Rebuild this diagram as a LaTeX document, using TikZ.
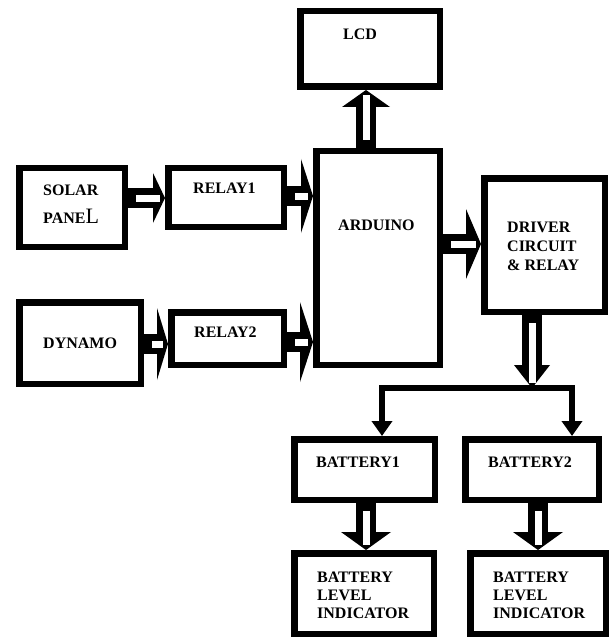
\documentclass[tikz,border=0pt]{standalone}
\usepackage{fontspec}
\setmainfont{Liberation Serif}
\usetikzlibrary{arrows.meta, positioning, calc}

% hollow block arrow: from, tip, half head width, head length
\newcommand{\hollowarrow}[4]{%
  \coordinate (hb) at ($(#2)!#4!(#1)$);
  \draw[line width=20pt] (#1) -- (hb);
  \fill (#2) -- ($(hb)!#3!90:(#2)$) -- ($(hb)!#3!-90:(#2)$) -- cycle;
  \draw[white, line width=7pt, shorten <=8pt, shorten >=5pt] (#1) -- (#2);
}

\begin{document}
\begin{tikzpicture}[x=1pt, y=-1pt,
    blk/.style={draw, line width=6.5pt, inner sep=0pt},
    lbl/.style={font=\fontsize{16}{19}\selectfont\bfseries, anchor=north west, align=left, inner sep=0pt}]
    \useasboundingbox (0,0) rectangle (611,639);

    % Blocks
    \node[blk, minimum width=105.5pt, minimum height=78.5pt] (solar) at (72,207.5) {};
    \node[blk, minimum width=115.5pt, minimum height=58.5pt] (relay1) at (226,197.5) {};
    \node[blk, minimum width=121.5pt, minimum height=81.5pt] (dynamo) at (80,343) {};
    \node[blk, minimum width=112.5pt, minimum height=52.5pt] (relay2) at (227.5,338.5) {};
    \node[blk, minimum width=123.5pt, minimum height=213.5pt] (arduino) at (378,258) {};
    \node[blk, minimum width=139.5pt, minimum height=75.5pt] (lcd) at (370,49) {};
    \node[blk, minimum width=120.5pt, minimum height=133.5pt] (driver) at (544.5,245) {};
    \node[blk, minimum width=140.5pt, minimum height=60.5pt] (bat1) at (364.5,469.5) {};
    \node[blk, minimum width=133.5pt, minimum height=60.5pt] (bat2) at (532,469.5) {};
    \node[blk, minimum width=139.5pt, minimum height=80.5pt] (bli1) at (364,593.5) {};
    \node[blk, minimum width=135.5pt, minimum height=80.5pt] (bli2) at (538,593.5) {};

    % Labels
    \node[lbl] (lcdtxt) at (343,29) {LCD};
    \node[lbl, font=\fontsize{16}{28}\selectfont\bfseries] (solartxt) at (43,185)
        {SOLAR\\PANE{\fontsize{22}{22}\selectfont\mdseries L}};
    \node[lbl] (relay1txt) at (193,183) {RELAY1};
    \node[lbl] (dynamotxt) at (43,338) {DYNAMO};
    \node[lbl] (relay2txt) at (194,327) {RELAY2};
    \node[lbl] (arduinotxt) at (338,220) {ARDUINO};
    \node[lbl] (drivertxt) at (507,222) {DRIVER\\CIRCUIT\\\& RELAY};
    \node[lbl] (bat1txt) at (316,457) {BATTERY1};
    \node[lbl] (bat2txt) at (488,457) {BATTERY2};
    \node[lbl, font=\fontsize{16}{18}\selectfont\bfseries] (bli1txt) at (317,572) {BATTERY\\LEVEL\\INDICATOR};
    \node[lbl, font=\fontsize{16}{18}\selectfont\bfseries] (bli2txt) at (493,572) {BATTERY\\LEVEL\\INDICATOR};

    % Hollow arrows
    \hollowarrow{solar.east |- 0,198}{relay1.west |- 0,198}{25pt}{12pt}
    \hollowarrow{relay1.east |- 0,196}{arduino.west |- 0,196}{37pt}{12pt}
    \hollowarrow{dynamo.east |- 0,344}{relay2.west |- 0,344}{36pt}{11pt}
    \hollowarrow{relay2.east |- 0,342}{arduino.west |- 0,342}{40pt}{13pt}
    \hollowarrow{arduino.east |- 0,244}{driver.west |- 0,244}{35pt}{15pt}
    \hollowarrow{arduino.north -| 366,0}{lcd.south -| 366,0}{24pt}{17pt}
    \coordinate (split) at (532,388);
    \hollowarrow{driver.south -| 532,0}{split}{18pt}{23pt}
    \hollowarrow{bat1.south -| 366,0}{bli1.north -| 366,0}{25pt}{18pt}
    \hollowarrow{bat2.south -| 538,0}{bli2.north -| 538,0}{25pt}{18pt}

    % Split to batteries
    \draw[line width=6pt, -{Triangle[width=20pt,length=15pt]}] (split) -| (bat1.north -| 382,0);
    \draw[line width=6pt, -{Triangle[width=20pt,length=15pt]}] (split) -| (bat2.north -| 572,0);
\end{tikzpicture}
\end{document}
